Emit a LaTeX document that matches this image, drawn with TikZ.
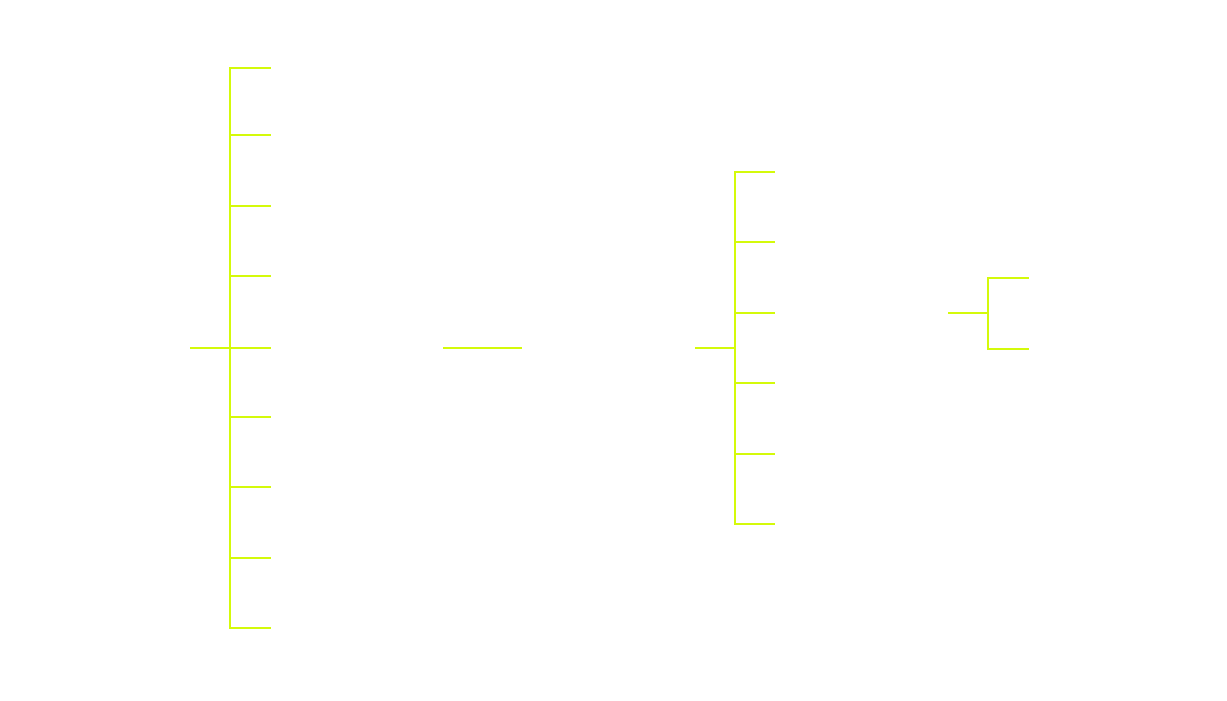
\documentclass[tikz,border=0pt]{standalone}
\usepackage{tikz}
\definecolor{branch}{RGB}{212,250,10}
\begin{document}
\begin{tikzpicture}[x=0.75pt,y=-0.75pt]
\tikzset{link/.style={draw=branch, line width=1.5pt, line cap=rect}}
\useasboundingbox (0,0) rectangle (1227,700);
\coordinate (rootA) at (191,348);
\coordinate (forkA) at (230,348);
\coordinate (a0) at (270,68);
\coordinate (a1) at (270,135);
\coordinate (a2) at (270,206);
\coordinate (a3) at (270,276);
\coordinate (a4) at (270,348);
\coordinate (a5) at (270,417);
\coordinate (a6) at (270,487);
\coordinate (a7) at (270,558);
\coordinate (a8) at (270,628);
\draw[link](rootA) -- (forkA);
\draw[link](forkA) |- (a0);
\draw[link](forkA) |- (a1);
\draw[link](forkA) |- (a2);
\draw[link](forkA) |- (a3);
\draw[link](forkA) -- (a4);
\draw[link](forkA) |- (a5);
\draw[link](forkA) |- (a6);
\draw[link](forkA) |- (a7);
\draw[link](forkA) |- (a8);
\coordinate (rootB) at (444,348);
\coordinate (b0) at (521,348);
\draw[link](rootB) -- (b0);
\coordinate (rootC) at (696,348);
\coordinate (forkC) at (735,348);
\coordinate (c0) at (774,172);
\coordinate (c1) at (774,242);
\coordinate (c2) at (774,313);
\coordinate (c3) at (774,383);
\coordinate (c4) at (774,454);
\coordinate (c5) at (774,524);
\draw[link](rootC) -- (forkC);
\draw[link](forkC) |- (c0);
\draw[link](forkC) |- (c1);
\draw[link](forkC) |- (c2);
\draw[link](forkC) |- (c3);
\draw[link](forkC) |- (c4);
\draw[link](forkC) |- (c5);
\coordinate (rootD) at (949,313);
\coordinate (forkD) at (988,313);
\coordinate (d0) at (1028,278);
\coordinate (d1) at (1028,349);
\draw[link](rootD) -- (forkD);
\draw[link](forkD) |- (d0);
\draw[link](forkD) |- (d1);
\end{tikzpicture}
\end{document}
